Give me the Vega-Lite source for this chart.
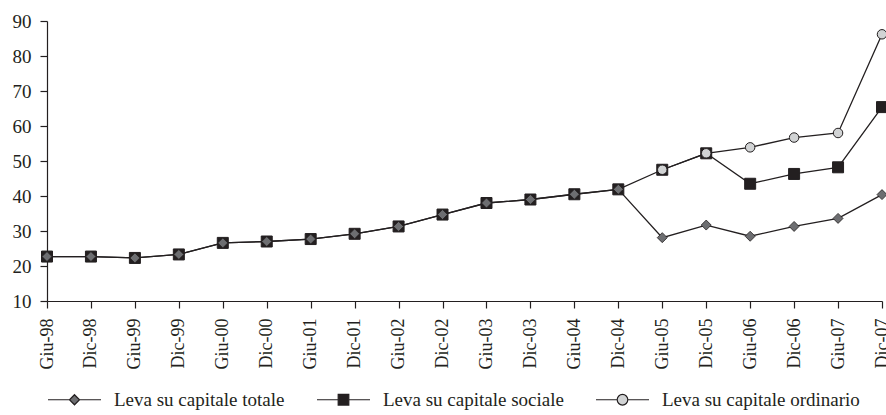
{
  "$schema": "https://vega.github.io/schema/vega-lite/v6.json",
  "width": 835,
  "height": 280,
  "autosize": {"type": "none"},
  "padding": {"left": 47, "top": 21, "right": 4, "bottom": 114},
  "background": "white",
  "config": {
    "view": {"stroke": null},
    "font": "Liberation Serif",
    "axis": {
      "labelFont": "Liberation Serif",
      "labelColor": "#231f20",
      "domainColor": "#231f20",
      "tickColor": "#231f20",
      "domainWidth": 1.2,
      "tickWidth": 1.2,
      "tickSize": 7,
      "grid": false,
      "title": null
    }
  },
  "data": {
    "values": [
      {"d": "Giu-98", "s": "Leva su capitale totale", "v": 22.7},
      {"d": "Dic-98", "s": "Leva su capitale totale", "v": 22.7},
      {"d": "Giu-99", "s": "Leva su capitale totale", "v": 22.3},
      {"d": "Dic-99", "s": "Leva su capitale totale", "v": 23.3},
      {"d": "Giu-00", "s": "Leva su capitale totale", "v": 26.6},
      {"d": "Dic-00", "s": "Leva su capitale totale", "v": 27.0},
      {"d": "Giu-01", "s": "Leva su capitale totale", "v": 27.7},
      {"d": "Dic-01", "s": "Leva su capitale totale", "v": 29.2},
      {"d": "Giu-02", "s": "Leva su capitale totale", "v": 31.3},
      {"d": "Dic-02", "s": "Leva su capitale totale", "v": 34.7},
      {"d": "Giu-03", "s": "Leva su capitale totale", "v": 38.0},
      {"d": "Dic-03", "s": "Leva su capitale totale", "v": 39.0},
      {"d": "Giu-04", "s": "Leva su capitale totale", "v": 40.5},
      {"d": "Dic-04", "s": "Leva su capitale totale", "v": 41.9},
      {"d": "Giu-05", "s": "Leva su capitale totale", "v": 28.1},
      {"d": "Dic-05", "s": "Leva su capitale totale", "v": 31.7},
      {"d": "Giu-06", "s": "Leva su capitale totale", "v": 28.5},
      {"d": "Dic-06", "s": "Leva su capitale totale", "v": 31.3},
      {"d": "Giu-07", "s": "Leva su capitale totale", "v": 33.6},
      {"d": "Dic-07", "s": "Leva su capitale totale", "v": 40.4},
      {"d": "Giu-98", "s": "Leva su capitale sociale", "v": 22.7},
      {"d": "Dic-98", "s": "Leva su capitale sociale", "v": 22.7},
      {"d": "Giu-99", "s": "Leva su capitale sociale", "v": 22.3},
      {"d": "Dic-99", "s": "Leva su capitale sociale", "v": 23.3},
      {"d": "Giu-00", "s": "Leva su capitale sociale", "v": 26.6},
      {"d": "Dic-00", "s": "Leva su capitale sociale", "v": 27.0},
      {"d": "Giu-01", "s": "Leva su capitale sociale", "v": 27.7},
      {"d": "Dic-01", "s": "Leva su capitale sociale", "v": 29.2},
      {"d": "Giu-02", "s": "Leva su capitale sociale", "v": 31.3},
      {"d": "Dic-02", "s": "Leva su capitale sociale", "v": 34.7},
      {"d": "Giu-03", "s": "Leva su capitale sociale", "v": 38.0},
      {"d": "Dic-03", "s": "Leva su capitale sociale", "v": 39.0},
      {"d": "Giu-04", "s": "Leva su capitale sociale", "v": 40.5},
      {"d": "Dic-04", "s": "Leva su capitale sociale", "v": 41.9},
      {"d": "Giu-05", "s": "Leva su capitale sociale", "v": 47.5},
      {"d": "Dic-05", "s": "Leva su capitale sociale", "v": 52.2},
      {"d": "Giu-06", "s": "Leva su capitale sociale", "v": 43.5},
      {"d": "Dic-06", "s": "Leva su capitale sociale", "v": 46.3},
      {"d": "Giu-07", "s": "Leva su capitale sociale", "v": 48.2},
      {"d": "Dic-07", "s": "Leva su capitale sociale", "v": 65.4},
      {"d": "Giu-05", "s": "Leva su capitale ordinario", "v": 47.5},
      {"d": "Dic-05", "s": "Leva su capitale ordinario", "v": 52.2},
      {"d": "Giu-06", "s": "Leva su capitale ordinario", "v": 53.9},
      {"d": "Dic-06", "s": "Leva su capitale ordinario", "v": 56.7},
      {"d": "Giu-07", "s": "Leva su capitale ordinario", "v": 58.0},
      {"d": "Dic-07", "s": "Leva su capitale ordinario", "v": 86.2}
    ]
  },
  "encoding": {
    "x": {
      "field": "d",
      "type": "nominal",
      "sort": ["Giu-98","Dic-98","Giu-99","Dic-99","Giu-00","Dic-00","Giu-01","Dic-01","Giu-02","Dic-02","Giu-03","Dic-03","Giu-04","Dic-04","Giu-05","Dic-05","Giu-06","Dic-06","Giu-07","Dic-07"],
      "scale": {"type": "point", "padding": 0},
      "axis": {"labelAngle": -90, "labelAlign": "right", "labelBaseline": "middle", "labelPadding": 10, "labelFontSize": 18}
    },
    "y": {
      "field": "v",
      "type": "quantitative",
      "scale": {"domain": [10, 90], "nice": false, "zero": false},
      "axis": {"values": [10,20,30,40,50,60,70,80,90], "labelPadding": 9, "labelFontSize": 19}
    }
  },
  "layer": [
    {
      "mark": {"type": "line", "color": "#231f20", "strokeWidth": 1.3},
      "encoding": {"detail": {"field": "s"}}
    },
    {
      "transform": [{"filter": "datum.s === 'Leva su capitale sociale'"}],
      "mark": {"type": "point", "shape": "square", "filled": true, "fill": "#231f20", "stroke": "#231f20", "strokeWidth": 1, "size": 121, "opacity": 1}
    },
    {
      "transform": [{"filter": "datum.s === 'Leva su capitale ordinario'"}],
      "mark": {"type": "point", "shape": "circle", "filled": true, "fill": "#d1d3d4", "stroke": "#231f20", "strokeWidth": 1, "size": 90, "opacity": 1}
    },
    {
      "transform": [{"filter": "datum.s === 'Leva su capitale totale'"}],
      "mark": {"type": "point", "shape": "diamond", "filled": true, "fill": "#6d6e71", "stroke": "#231f20", "strokeWidth": 0.8, "size": 100, "opacity": 1}
    },
    {
      "mark": {"type": "point", "filled": true, "opacity": 0, "stroke": "#231f20"},
      "encoding": {
        "shape": {
          "field": "s",
          "type": "nominal",
          "scale": {
            "domain": ["Leva su capitale totale", "Leva su capitale sociale", "Leva su capitale ordinario"],
            "range": [
              "M-1,0L-0.19,0M0.19,0L1,0M0,-0.19L0.19,0L0,0.19L-0.19,0Z",
              "M-1,0L-0.2,0M0.2,0L1,0M-0.2,-0.2L0.2,-0.2L0.2,0.2L-0.2,0.2Z",
              "M-1,0L-0.2,0M0.2,0L1,0M0.2,0A0.2,0.2,0,1,1,-0.2,0A0.2,0.2,0,1,1,0.2,0Z"
            ]
          },
          "legend": {
            "title": null,
            "orient": "bottom",
            "direction": "horizontal",
            "symbolSize": 2809,
            "symbolOpacity": 1,
            "symbolStrokeColor": "#231f20",
            "symbolStrokeWidth": 1.2,
            "labelFont": "Liberation Serif",
            "labelFontSize": 19,
            "labelColor": "#231f20",
            "labelOffset": 12,
            "columnPadding": 29,
            "offset": 3,
            "labelLimit": 400,
            "encode": {
              "symbols": {"update": {"stroke": {"value": "#231f20"}, "strokeWidth": {"value": 1.2}, "opacity": {"value": 1}}}
            }
          }
        },
        "fill": {
          "field": "s",
          "type": "nominal",
          "scale": {
            "domain": ["Leva su capitale totale", "Leva su capitale sociale", "Leva su capitale ordinario"],
            "range": ["#6d6e71", "#231f20", "#d1d3d4"]
          },
          "legend": {
            "title": null,
            "orient": "bottom",
            "direction": "horizontal",
            "symbolSize": 2809,
            "symbolOpacity": 1,
            "symbolStrokeColor": "#231f20",
            "symbolStrokeWidth": 1.2,
            "labelFont": "Liberation Serif",
            "labelFontSize": 19,
            "labelColor": "#231f20",
            "labelOffset": 12,
            "columnPadding": 29,
            "offset": 3,
            "labelLimit": 400,
            "encode": {
              "symbols": {"update": {"stroke": {"value": "#231f20"}, "strokeWidth": {"value": 1.2}, "opacity": {"value": 1}}}
            }
          }
        }
      }
    }
  ]
}
